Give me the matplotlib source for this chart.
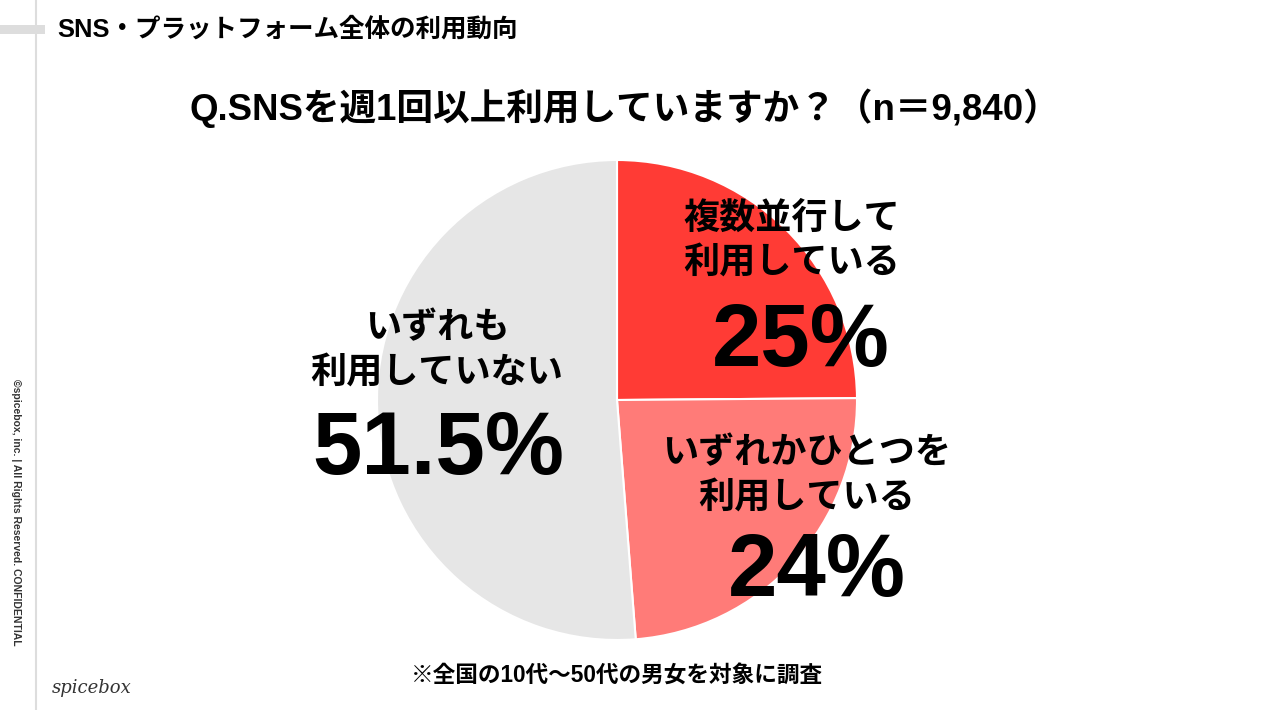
import matplotlib
matplotlib.use("Agg")
import matplotlib.pyplot as plt
from matplotlib.patches import Rectangle

plt.rcParams['font.family'] = ['Liberation Sans', 'Noto Sans CJK JP', 'DejaVu Sans']

header = "SNS・プラットフォーム全体の利用動向"
title = "Q.SNSを週1回以上利用していますか？（n＝9,840）"
footnote = "※全国の10代～50代の男女を対象に調査"
copyright_text = "©spicebox, inc. | All Rights Reserved. CONFIDENTIAL"
logo = "spicebox"

categories = ["複数並行して\n利用している", "いずれかひとつを\n利用している", "いずれも\n利用していない"]
values = [25, 24, 51.5]
value_labels = ["25%", "24%", "51.5%"]
colors = ["#FF3B35", "#FF7B78", "#E6E6E6"]

W, H = 1266, 710
fig = plt.figure(figsize=(W / 100, H / 100), dpi=100)
ax = fig.add_axes([0, 0, 1, 1])

def Y(py):
    return H - py

cx, cy, r = 617, Y(400), 240
ax.pie(values, colors=colors, startangle=90, counterclock=False,
       center=(cx, cy), radius=r, frame=True,
       wedgeprops=dict(edgecolor='white', linewidth=1.5))
ax.set_xlim(0, W)
ax.set_ylim(0, H)
ax.set_aspect('equal')
ax.axis('off')

# decorations
ax.plot([36, 36], [0, H], color="#DDDDDD", lw=1.5, zorder=1)
ax.add_patch(Rectangle((0, Y(34)), 45, 9, color="#DDDDDD", zorder=2, lw=0))

ax.text(57, Y(29), header, fontsize=18.4, fontweight='bold', ha='left', va='center')
ax.text(625, Y(108), title, fontsize=26.4, fontweight='bold', ha='center', va='center')

# labels
label_pos = [(792, 241), (807, 476), (437, 351)]
value_pos = [(801, 343), (817, 573), (438, 451)]
for cat, vl, (lx, ly), (vx, vy) in zip(categories, value_labels, label_pos, value_pos):
    ax.text(lx, Y(ly), cat, fontsize=26, fontweight='bold', ha='center', va='center',
            linespacing=1.32, zorder=5)
    ax.text(vx, Y(vy), vl, fontsize=64, fontweight='bold', ha='center', va='center', zorder=5)

ax.text(617, Y(676), footnote, fontsize=16.3, fontweight='bold', ha='center', va='center')
ax.text(16, Y(512), copyright_text, fontsize=7.5, fontweight='bold', color="#333333",
        rotation=-90, ha='center', va='center')
ax.text(92, Y(688), logo, fontsize=13, family='DejaVu Serif', style='italic',
        color="#333333", ha='center', va='center')

fig.savefig("out.png", dpi=100)
